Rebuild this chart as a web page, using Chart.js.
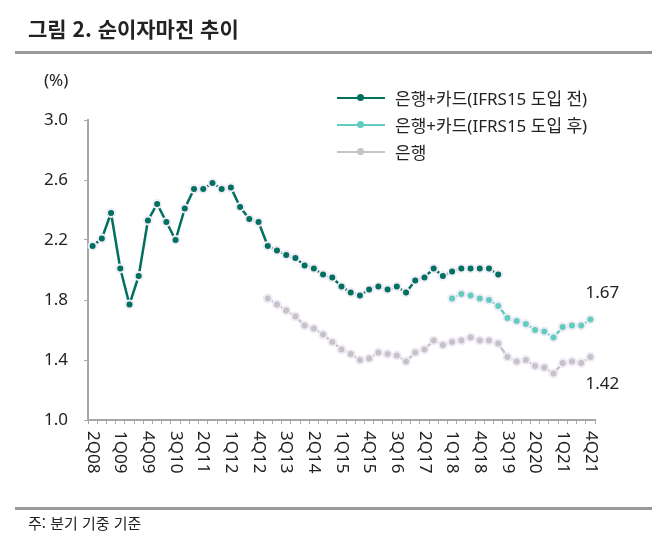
<!DOCTYPE html>
<html lang="ko">
<head>
<meta charset="utf-8">
<script src="https://cdn.jsdelivr.net/npm/chart.js@4/dist/chart.umd.min.js"></script>
<style>
  body { margin: 0; background: #fff; }
  .page { position: relative; width: 666px; height: 544px; font-family: "Noto Sans", "Noto Sans CJK KR", sans-serif; color: #222; }
  .page canvas { position: absolute; left: 0; top: 0; }
  .title { position: absolute; left: 28px; top: 13px; font: bold 21px "Noto Sans CJK KR", sans-serif; color: #222; }
  .rule { position: absolute; left: 15px; width: 637px; height: 3px; background: #999; }
  .unit { position: absolute; left: 44px; top: 68px; font-size: 17px; }
  .note { position: absolute; left: 28px; top: 512px; font: 15px "Noto Sans CJK KR", sans-serif; }
  .legend { position: absolute; left: 337px; top: 84px; font-size: 17px; }
  .legend div { height: 27px; display: flex; align-items: center; }
  .sym { position: relative; display: inline-block; width: 48px; height: 2px; margin-right: 10px; }
  .sym i { position: absolute; left: 20px; top: -3px; width: 7px; height: 7px; border-radius: 50%; }
</style>
</head>
<body>
<div class="page">
  <canvas id="chart" width="666" height="544"></canvas>
  <div class="title">그림 2. 순이자마진 추이</div>
  <div class="rule" style="top:51px"></div>
  <div class="unit">(%)</div>
  <div class="legend" id="legend"></div>
  <div class="rule" style="top:507px"></div>
  <div class="note">주: 분기 기중 기준</div>
</div>
<script>
const quarters = [
  "2Q08", "3Q08", "4Q08", "1Q09", "2Q09", "3Q09", "4Q09", "1Q10", "2Q10", "3Q10",
  "4Q10", "1Q11", "2Q11", "3Q11", "4Q11", "1Q12", "2Q12", "3Q12", "4Q12", "1Q13",
  "2Q13", "3Q13", "4Q13", "1Q14", "2Q14", "3Q14", "4Q14", "1Q15", "2Q15", "3Q15",
  "4Q15", "1Q16", "2Q16", "3Q16", "4Q16", "1Q17", "2Q17", "3Q17", "4Q17", "1Q18",
  "2Q18", "3Q18", "4Q18", "1Q19", "2Q19", "3Q19", "4Q19", "1Q20", "2Q20", "3Q20",
  "4Q20", "1Q21", "2Q21", "3Q21", "4Q21"
];
const shownTicks = [
  "2Q08", "1Q09", "4Q09", "3Q10", "2Q11", "1Q12", "4Q12", "3Q13", "2Q14", "1Q15",
  "4Q15", "3Q16", "2Q17", "1Q18", "4Q18", "3Q19", "2Q20", "1Q21", "4Q21"
];
const yTicks = [1.0, 1.4, 1.8, 2.2, 2.6, 3.0];

// 은행+카드 (IFRS15 도입 전): 2Q08 ~ 2Q19
const bankCardBefore = [
  2.16, 2.21, 2.38, 2.01, 1.77, 1.96, 2.33, 2.44, 2.32, 2.20,
  2.41, 2.54, 2.54, 2.58, 2.54, 2.55, 2.42, 2.34, 2.32, 2.16,
  2.13, 2.10, 2.08, 2.03, 2.01, 1.97, 1.95, 1.89, 1.85, 1.83,
  1.87, 1.89, 1.87, 1.89, 1.85, 1.93, 1.95, 2.01, 1.96, 1.99,
  2.01, 2.01, 2.01, 2.01, 1.97
];
// 은행+카드 (IFRS15 도입 후): 1Q18 ~ 4Q21
const bankCardAfterStart = "1Q18";
const bankCardAfter = [
  1.81, 1.84, 1.83, 1.81, 1.80, 1.76, 1.68, 1.66, 1.64, 1.60,
  1.59, 1.55, 1.62, 1.63, 1.63, 1.67
];
// 은행: 1Q13 ~ 4Q21
const bankStart = "1Q13";
const bank = [
  1.81, 1.77, 1.73, 1.69, 1.63, 1.61, 1.57, 1.52, 1.47, 1.44,
  1.40, 1.41, 1.45, 1.44, 1.43, 1.39, 1.45, 1.47, 1.53, 1.50,
  1.52, 1.53, 1.55, 1.53, 1.53, 1.51, 1.42, 1.39, 1.40, 1.36,
  1.35, 1.31, 1.38, 1.39, 1.38, 1.42
];

function padFrom(start, values) {
  const lead = quarters.indexOf(start);
  return Array(lead).fill(null).concat(values);
}

const AXIS = "#a6a6a6";
const series = [
  { label: "은행+카드(IFRS15 도입 전)", data: bankCardBefore, color: "#00705f", endLabel: null },
  { label: "은행+카드(IFRS15 도입 후)", data: padFrom(bankCardAfterStart, bankCardAfter), color: "#62cdbf", endLabel: "above" },
  { label: "은행", data: padFrom(bankStart, bank), color: "#c5c2c8", endLabel: "below" }
];

// html legend
const legend = document.getElementById("legend");
series.forEach((s) => {
  const row = document.createElement("div");
  row.innerHTML = `<span class="sym" style="background:${s.color}"><i style="background:${s.color}"></i></span>${s.label}`;
  legend.appendChild(row);
});

const xLabels = {
  id: "xLabels",
  afterDraw(chart) {
    const x = chart.scales.x;
    const ctx = chart.ctx;
    ctx.save();
    ctx.font = '17px "Noto Sans", sans-serif';
    ctx.fillStyle = "#222";
    ctx.textAlign = "left";
    ctx.textBaseline = "middle";
    shownTicks.forEach((q) => {
      const px = x.getPixelForValue(quarters.indexOf(q));
      ctx.save();
      ctx.translate(px, x.top + 11);
      ctx.rotate(Math.PI / 2);
      ctx.fillText(q, 0, 0);
      ctx.restore();
    });
    ctx.restore();
  }
};

const endLabels = {
  id: "endLabels",
  afterDatasetsDraw(chart) {
    const ctx = chart.ctx;
    ctx.save();
    ctx.font = '17px "Noto Sans", sans-serif';
    ctx.fillStyle = "#222";
    ctx.textAlign = "center";
    ctx.textBaseline = "middle";
    series.forEach((s, i) => {
      if (!s.endLabel) return;
      const last = s.data.length - 1;
      const pt = chart.getDatasetMeta(i).data[last];
      const dy = s.endLabel === "above" ? -26 : 27;
      ctx.fillText(s.data[last].toFixed(2), pt.x + 12, pt.y + dy);
    });
    ctx.restore();
  }
};

new Chart(document.getElementById("chart"), {
  type: "line",
  data: {
    labels: quarters,
    datasets: series.map((s) => ({
      label: s.label,
      data: s.data,
      borderColor: s.color,
      backgroundColor: s.color,
      borderWidth: 2.5,
      pointRadius: 4,
      pointBorderWidth: 2,
      pointBackgroundColor: s.color,
      pointBorderColor: "#f1ebf7",
      tension: 0,
      spanGaps: false,
    })),
  },
  options: {
    responsive: false,
    animation: false,
    layout: { padding: { top: 120, left: 0, right: 71, bottom: 54 } },
    plugins: { legend: { display: false }, tooltip: { enabled: false } },
    scales: {
      x: {
        offset: true,
        border: { color: AXIS, width: 2 },
        grid: { offset: true, drawOnChartArea: false, drawTicks: true, tickLength: 4, color: AXIS },
        ticks: { display: false, autoSkip: false },
        afterFit: (scale) => { scale.height = 70; },
      },
      y: {
        min: yTicks[0],
        max: yTicks[yTicks.length - 1],
        border: { color: AXIS, width: 2 },
        grid: { drawOnChartArea: false, drawTicks: true, tickLength: 4, color: AXIS },
        afterBuildTicks: (scale) => { scale.ticks = yTicks.map((v) => ({ value: v })); },
        ticks: {
          padding: 16,
          color: "#222",
          font: { family: '"Noto Sans", sans-serif', size: 17 },
          callback: (v) => Number(v).toFixed(1),
        },
        afterFit: (scale) => { scale.width = 88; },
      },
    },
  },
  plugins: [xLabels, endLabels],
});
</script>
</body>
</html>
